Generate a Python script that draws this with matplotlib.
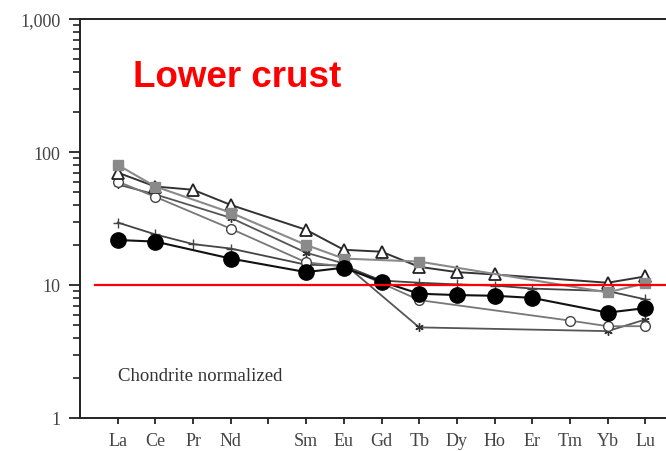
import numpy as np
import matplotlib
matplotlib.use("Agg")
import matplotlib.pyplot as plt
from matplotlib.ticker import LogLocator, FixedLocator, NullFormatter

# REE order, Pm (5) left blank on the axis
elements = ["La", "Ce", "Pr", "Nd", "", "Sm", "Eu", "Gd", "Tb", "Dy", "Ho", "Er", "Tm", "Yb", "Lu"]
pos = {e: i + 1 for i, e in enumerate(elements) if e}

# chondrite normalised values
tri_el = ["La", "Ce", "Pr", "Nd", "Sm", "Eu", "Gd", "Tb", "Dy", "Ho", "Yb", "Lu"]
tri_val = [70, 55, 52, 40, 26, 18.4, 17.8, 13.7, 12.5, 12.0, 10.4, 11.6]

sq_el = ["La", "Ce", "Nd", "Sm", "Eu", "Tb", "Yb", "Lu"]
sq_val = [80, 55, 35, 20, 15.8, 15.0, 8.8, 10.3]

oc_el = ["La", "Ce", "Nd", "Sm", "Eu", "Tb", "Tm", "Yb", "Lu"]
oc_val = [60, 46, 26.5, 14.8, 13.8, 7.7, 5.4, 4.9, 4.9]

star_el = ["La", "Ce", "Nd", "Sm", "Eu", "Tb", "Yb", "Lu"]
star_val = [57, 48, 32, 17.5, 14.5, 4.8, 4.5, 5.5]

plus_el = ["La", "Ce", "Pr", "Nd", "Sm", "Eu", "Gd", "Tb", "Dy", "Ho", "Er", "Yb", "Lu"]
plus_val = [29.5, 24, 20.3, 18.8, 14.2, 14.0, 10.8, 10.4, 10.1, 9.9, 9.4, 9.0, 7.8]

dot_el = ["La", "Ce", "Nd", "Sm", "Eu", "Gd", "Tb", "Dy", "Ho", "Er", "Yb", "Lu"]
dot_val = [21.8, 21.2, 15.8, 12.5, 13.5, 10.6, 8.6, 8.4, 8.3, 8.0, 6.2, 6.7]


def xs(els):
    return [pos[e] for e in els]


fig = plt.figure(figsize=(6.66, 4.52), dpi=100)
ax = fig.add_axes([80 / 666, 33 / 452, 603 / 666, 399 / 452])

ax.plot(xs(star_el), star_val, color="#555555", lw=1.3, marker=(6, 2, 0), ms=6,
        mec="#333333", mew=1.0, zorder=3)
ax.plot(xs(oc_el), oc_val, color="#777777", lw=1.3, marker="o", ms=7,
        mfc="white", mec="#444444", mew=1.0, zorder=4)
ax.plot(xs(tri_el), tri_val, color="#333333", lw=1.4, marker="^", ms=8,
        mfc="white", mec="#222222", mew=1.3, zorder=4)
ax.plot(xs(sq_el), sq_val, color="#8a8a8a", lw=1.5, marker="s", ms=7.5,
        mfc="#8a8a8a", mec="#8a8a8a", zorder=5)
ax.plot(xs(plus_el), plus_val, color="#444444", lw=1.3, marker="+", ms=7,
        mec="#444444", mew=1.0, zorder=3)
ax.plot(xs(dot_el), dot_val, color="#111111", lw=1.5, marker="o", ms=11,
        mfc="black", mec="black", zorder=6)

# reference line at 10x chondrite
ax.plot([0.4, 16], [10, 10], color="red", lw=1.6, zorder=7)

ax.set_yscale("log")
ax.set_ylim(1, 1000)
ax.set_xlim(0, 16)

for s in ["top", "left", "bottom"]:
    ax.spines[s].set_linewidth(1.4)
    ax.spines[s].set_color("#222222")
ax.spines["right"].set_visible(False)

ax.yaxis.set_major_locator(FixedLocator([1, 10, 100, 1000]))
ax.set_yticklabels(["1", "10", "100", "1,000"])
ax.yaxis.set_minor_locator(LogLocator(base=10, subs=np.arange(2, 10)))
ax.yaxis.set_minor_formatter(NullFormatter())
ax.tick_params(axis="y", which="major", direction="out", length=8, width=1.3,
               pad=6, labelsize=13, labelcolor="#444444", colors="#222222")
ax.tick_params(axis="y", which="minor", direction="out", length=5, width=1.2,
               colors="#222222")

ax.set_xticks(range(1, 16))
ax.set_xticklabels(elements)
ax.tick_params(axis="x", which="both", direction="out", length=4, width=1.3,
               pad=6, labelsize=13, labelcolor="#444444", colors="#222222")

for lbl in ax.get_xticklabels() + ax.get_yticklabels():
    lbl.set_family("Liberation Serif")

ax.text(1.02, 2.1, "Chondrite normalized", family="Liberation Serif",
        fontsize=13.5, color="#333333", va="center", ha="left")
fig.text(133 / 666, 1 - 87 / 452, "Lower crust", family="Liberation Sans",
         fontweight="bold", fontsize=26.5, color="#ff0000", ha="left", va="baseline")

fig.savefig("out.png", dpi=100)
